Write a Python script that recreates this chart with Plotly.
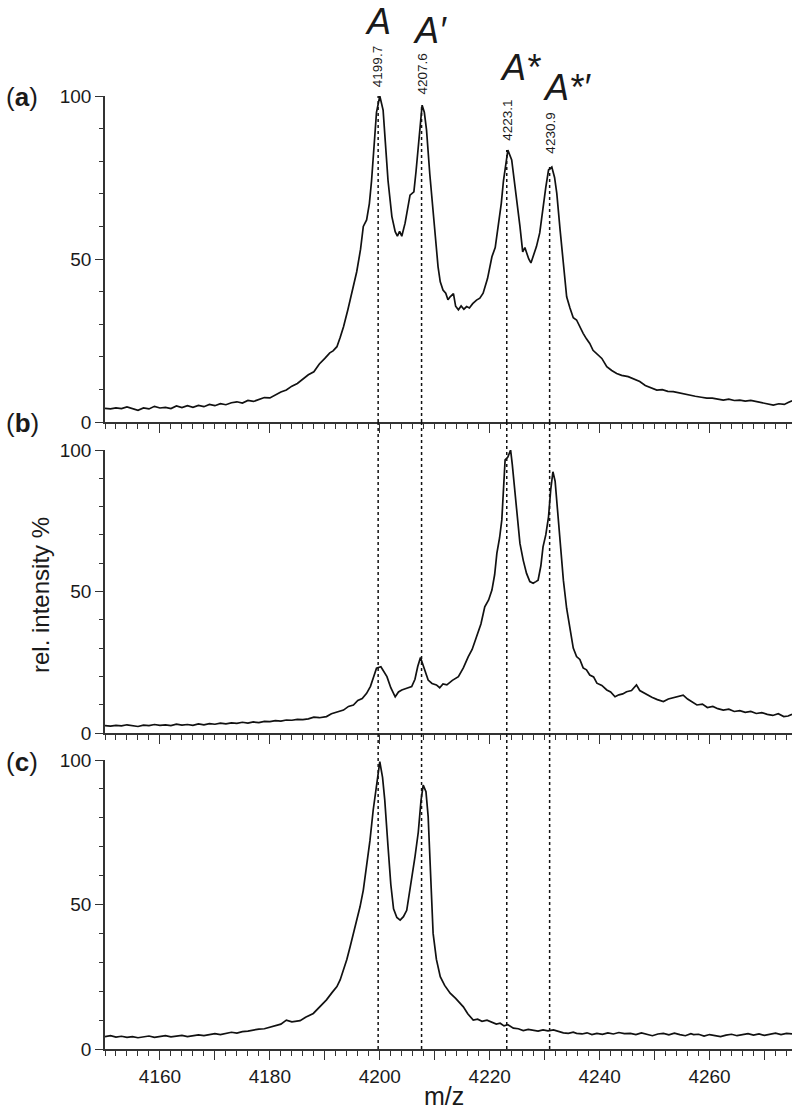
import plotly.graph_objects as go

# ---------------- data ----------------
# panel (a)
xa = [4150, 4151, 4152, 4153, 4154, 4155, 4156, 4157, 4158, 4159, 4160, 4161, 4162, 4163, 4164, 4165,
      4166, 4167, 4168, 4169, 4170, 4171, 4172, 4173, 4174, 4175, 4176, 4177, 4178, 4179, 4180, 4181,
      4182, 4183, 4184, 4185, 4186, 4187, 4188, 4189, 4190, 4190.9, 4191.5, 4192.2, 4192.8, 4193.4,
      4194.2, 4195.0, 4195.8, 4196.5, 4197.0, 4197.6, 4198.1, 4198.5, 4199.0, 4199.4, 4200.0, 4200.6,
      4201.0, 4201.5, 4202.2, 4202.8, 4203.2, 4203.6, 4204.0, 4204.6, 4205.5, 4206.2, 4206.6, 4207.0,
      4207.7, 4208.1, 4208.5, 4209.1, 4209.7, 4210.2, 4210.6, 4211.0, 4211.5, 4212.0, 4212.4, 4212.8,
      4213.4, 4213.8, 4214.3, 4214.8, 4215.3, 4215.8, 4216.3, 4216.9, 4217.6, 4218.2, 4218.8, 4219.6,
      4220.4, 4221.0, 4221.6, 4222.1, 4222.5, 4223.0, 4223.3, 4224.0, 4224.5, 4224.9, 4225.5, 4226.0,
      4226.4, 4226.7, 4227.1, 4227.5, 4228.0, 4228.5, 4229.1, 4229.7, 4230.2, 4230.7, 4231.3, 4231.8,
      4232.2, 4232.8, 4233.4, 4234.0, 4234.6, 4235.2, 4235.8, 4236.4, 4237.0, 4237.6, 4238.2, 4238.8,
      4239.5, 4240.4, 4241.3, 4242.2, 4243.1, 4244.0, 4245.2, 4246.2, 4247.3, 4248.3, 4249.3, 4250.4,
      4251.4, 4252.4, 4253.4, 4254.4, 4255.4, 4256.4, 4257.4, 4258.5, 4259.5, 4260.5, 4261.5, 4262.5,
      4263.5, 4264.5, 4265.5, 4266.5, 4267.5, 4268.6, 4269.6, 4270.6, 4271.6, 4272.6, 4273.6, 4274.3,
      4275]
ya = [4.2, 4.0, 4.3, 4.1, 4.6, 4.2, 3.6, 4.3, 4.0, 4.8, 4.3, 4.5, 4.1, 4.9, 4.4, 5.0,
      4.5, 5.1, 4.7, 5.4, 5.0, 5.6, 5.3, 5.9, 6.2, 5.8, 6.6, 6.3, 6.9, 7.5, 7.4, 8.3,
      9.2, 9.8, 11.0, 11.8, 13.2, 14.5, 15.4, 17.8, 19.5, 21.2, 21.8, 23.1, 26.0, 29.2,
      34.5, 40.0, 46.1, 53.0, 60.0, 62.0, 67.0, 74.0, 86.0, 95.0, 100.0, 95.7,
      86.0, 74.0, 63.0, 58.4, 57.0, 58.5, 57.0, 61.0, 69.6, 70.6, 77.0, 84.4,
      97.2, 95.0, 89.6, 76.0, 64.0, 54.0, 47.6, 43.0, 40.5, 39.5, 37.5, 38.4,
      39.4, 35.5, 34.4, 35.6, 34.6, 35.4, 35.0, 36.3, 37.4, 38.0, 39.5, 44.0,
      50.7, 53.5, 61.0, 67.0, 74.0, 81.0, 83.4, 80.4, 74.0, 69.0, 60.0, 52.2,
      53.5, 52.0, 50.0, 48.8, 51.5, 53.8, 58.0, 66.0, 72.0, 77.3, 78.2, 75.0,
      70.2, 59.0, 48.7, 38.4, 35.0, 32.0, 31.3, 29.0, 27.2, 25.5, 24.1, 22.0,
      21.0, 19.5, 17.0, 15.8, 14.9, 14.3, 13.9, 13.2, 12.4, 11.2, 10.6, 9.8,
      9.9, 9.4, 9.3, 8.9, 8.6, 8.3, 7.9, 7.6, 7.3, 7.3, 6.9, 6.7,
      7.0, 6.6, 6.7, 6.4, 6.6, 6.2, 5.9, 5.7, 5.2, 5.6, 5.4, 6.0,
      6.5]

# panel (b)
xb = [4150, 4151, 4152, 4153, 4154, 4155, 4156, 4157, 4158, 4159, 4160, 4161, 4162, 4163, 4164, 4165,
      4166, 4167, 4168, 4169, 4170, 4171, 4172, 4173, 4174, 4175, 4176, 4177, 4178, 4179, 4180, 4181,
      4182, 4183, 4184, 4185, 4186, 4187, 4188, 4189, 4190.3, 4191.2, 4192.3, 4193.4, 4194.3, 4195.2,
      4196.0, 4196.8, 4197.6, 4198.3, 4198.9, 4199.4, 4200.2, 4200.8, 4201.3, 4202.0, 4202.8, 4203.4,
      4204.0, 4204.9, 4205.8, 4206.4, 4206.9, 4207.4, 4208.0, 4208.8, 4209.5, 4210.3, 4210.9, 4211.5,
      4212.2, 4213.2, 4214.3, 4215.2, 4216.1, 4216.8, 4217.6, 4218.4, 4219.1, 4219.8, 4220.4, 4220.9,
      4221.3, 4221.8, 4222.2, 4222.5, 4222.8, 4223.3, 4223.8, 4224.1, 4224.5, 4225.0, 4225.5, 4226.1,
      4226.7, 4227.3, 4227.9, 4228.4, 4228.8, 4229.3, 4229.7, 4230.2, 4230.7, 4231.1, 4231.5, 4231.9,
      4232.2, 4232.8, 4233.4, 4234.0, 4234.6, 4235.2, 4235.8, 4236.4, 4237.0, 4237.6, 4238.2, 4238.9,
      4239.5, 4240.4, 4241.3, 4242.0, 4242.8, 4243.5, 4244.2, 4244.9, 4245.8, 4246.7, 4247.3, 4248.0,
      4248.6, 4249.5, 4250.5, 4251.6, 4252.5, 4253.5, 4254.4, 4255.2, 4256.0, 4256.8, 4257.7, 4258.7,
      4259.6, 4260.6, 4261.5, 4262.5, 4263.5, 4264.5, 4265.5, 4266.5, 4267.5, 4268.5, 4269.5, 4270.5,
      4271.5, 4272.5, 4273.5, 4274.3, 4275]
yb = [2.6, 2.4, 2.7, 2.5, 2.9, 2.6, 2.3, 2.8, 2.6, 3.0, 2.7, 2.9, 2.6, 3.1, 2.8, 3.0,
      2.7, 3.2, 2.9, 3.3, 3.1, 3.5, 3.2, 3.6, 3.4, 3.8, 3.5, 3.9, 3.7, 4.1, 4.0, 4.4,
      4.2, 4.6, 4.5, 4.8, 4.7, 5.0, 5.6, 5.4, 5.8, 6.8, 7.4, 8.1, 9.4, 9.9,
      11.5, 12.2, 14.0, 16.5, 20.0, 22.9, 23.4, 21.5, 19.9, 16.0, 12.8, 14.5,
      15.2, 15.8, 16.4, 19.0, 23.5, 26.7, 23.0, 18.7, 17.5, 17.0, 16.0, 17.3,
      17.0, 18.6, 19.9, 23.0, 27.0, 29.5, 34.0, 38.5, 44.6, 47.0, 50.5, 56.0,
      63.5, 69.0, 75.3, 86.0, 96.5, 97.5, 100.0, 95.0, 87.0, 77.0, 67.0, 61.0,
      56.4, 53.5, 52.9, 53.5, 54.0, 59.0, 65.8, 70.0, 76.4, 86.0, 92.3, 89.0,
      82.3, 68.0, 54.0, 44.0, 37.6, 30.0, 27.0, 26.0, 23.0, 22.3, 20.5, 19.8,
      17.6, 16.8, 15.2, 14.5, 12.8, 13.5, 13.8, 14.6, 15.0, 17.0, 15.0, 14.2,
      13.4, 12.6, 11.8, 11.1, 12.0, 12.6, 13.0, 13.4, 12.0, 11.0, 9.9, 10.2,
      9.0, 9.4, 8.6, 8.1, 8.4, 7.6, 7.9, 7.3, 7.6, 6.9, 7.2, 6.6,
      6.2, 6.8, 5.8, 6.0, 6.6]

# panel (c)
xc = [4150, 4151, 4152, 4153, 4154, 4155, 4156, 4157, 4158, 4159, 4160, 4161, 4162, 4163, 4164, 4165,
      4166, 4167, 4168, 4169, 4170, 4171, 4172, 4173, 4174, 4175, 4176, 4177, 4178, 4179, 4180, 4181,
      4182, 4183, 4184, 4185.5, 4186.5, 4187.9, 4189.0, 4190.3, 4191.3, 4192.2, 4192.8, 4193.4, 4194.0,
      4194.6, 4195.5, 4196.4, 4197.0, 4197.6, 4198.2, 4198.8, 4199.4, 4200.0, 4200.5, 4200.9, 4201.5,
      4202.0, 4202.5, 4203.1, 4203.7, 4204.3, 4204.9, 4205.6, 4206.4, 4207.0, 4207.5, 4207.9, 4208.4,
      4208.8, 4209.2, 4209.7, 4210.3, 4211.0, 4211.8, 4212.8, 4213.8, 4215.2, 4216.0, 4217.0, 4217.8,
      4218.6, 4219.5, 4220.4, 4221.2, 4221.9, 4222.6, 4223.3, 4224.3, 4225.2, 4226.1, 4227.0, 4227.9,
      4228.8, 4229.7, 4230.6, 4231.6, 4232.5, 4233.4, 4234.3, 4235.2, 4235.8, 4236.8, 4237.7, 4238.6,
      4239.5, 4240.5, 4241.5, 4242.5, 4243.5, 4244.5, 4245.6, 4246.6, 4247.6, 4248.6, 4249.6, 4250.6,
      4251.6, 4252.6, 4253.6, 4254.6, 4255.6, 4256.6, 4257.1, 4258.0, 4259.0, 4260.0, 4261.0, 4262.0,
      4263.0, 4264.0, 4265.0, 4266.0, 4267.0, 4268.0, 4269.0, 4270.0, 4271.0, 4272.0, 4273.0, 4274.0,
      4275]
yc = [4.3, 4.6, 4.1, 4.4, 4.0, 4.3, 3.9, 4.2, 4.5, 4.0, 4.3, 4.6, 4.2, 4.4, 4.7, 4.3,
      4.6, 4.9, 4.6, 5.0, 5.3, 5.0, 5.4, 5.8, 5.5, 6.0, 6.2, 6.6, 6.9, 7.0, 7.6, 8.0,
      8.6, 10.0, 9.4, 9.8, 11.0, 12.3, 14.6, 17.0, 19.5, 21.6, 24.0, 27.3, 31.0,
      35.4, 42.0, 49.2, 55.0, 63.0, 72.0, 82.7, 92.0, 99.4, 94.0, 86.2, 70.0,
      57.0, 48.5, 45.5, 44.6, 45.8, 48.0, 56.0, 66.5, 75.0, 86.0, 91.3, 89.0,
      80.4, 60.0, 40.0, 31.0, 25.0, 22.0, 19.3, 17.5, 14.6, 12.2, 10.0, 10.3,
      9.6, 10.0, 9.4, 8.6, 8.9, 8.0, 8.4, 7.2, 7.0, 6.4, 6.8, 6.6,
      6.2, 6.6, 6.3, 6.6, 6.0, 5.6, 5.4, 5.8, 5.4, 5.2, 5.6, 5.0,
      5.4, 5.1, 5.6, 5.2, 5.7, 5.3, 5.4, 5.0, 5.6, 5.1, 4.6, 5.2,
      5.4, 4.9, 5.5, 5.0, 4.6, 5.3, 5.0, 5.1, 4.5, 5.0, 4.7, 4.3,
      4.8, 5.1, 4.6, 5.0, 5.3, 4.8, 5.2, 4.7, 5.1, 5.5, 5.0, 5.4,
      5.2]

peak_mz = [4199.7, 4207.6, 4223.1, 4230.9]
peak_height_a = [100, 97.2, 83.4, 78.2]
peak_labels = ["4199.7", "4207.6", "4223.1", "4230.9"]
species = ["A", "A′", "A*", "A*′"]
x_ticks = list(range(4160, 4271, 10))
x_ticktext = [str(v) if v % 20 == 0 else "" for v in x_ticks]
y_ticks = [0, 50, 100]
panel_names = ["(<b>a</b>)", "(<b>b</b>)", "(<b>c</b>)"]

# ---------------- layout geometry ----------------
W, H = 800, 1112
def py(p):
    return 1 - p / H

x_dom = [105 / W, 792 / W]
doms = {
    "a": [py(422), py(96)],
    "b": [py(733), py(450)],
    "c": [py(1049), py(760)],
}

FONT = "Liberation Sans, Arial, Helvetica, sans-serif"
INK = "#1a1a1a"
AX = "#333333"

fig = go.Figure()
for i, (xs, ys) in enumerate([(xa, ya), (xb, yb), (xc, yc)]):
    sfx = "" if i == 0 else str(i + 1)
    fig.add_trace(go.Scatter(x=xs, y=ys, mode="lines",
                             line=dict(color="#111111", width=1.7),
                             xaxis="x" + sfx, yaxis="y" + sfx,
                             showlegend=False, hoverinfo="skip"))

def xaxis_cfg(anchor, labels):
    return dict(domain=x_dom, anchor=anchor, range=[4150, 4275],
                showline=True, linecolor=AX, linewidth=1.5, mirror=False,
                showgrid=False, zeroline=False,
                ticks="outside", ticklen=9, tickwidth=1.4, tickcolor=AX,
                tickmode="array", tickvals=x_ticks, ticktext=x_ticktext,
                showticklabels=labels,
                tickfont=dict(family=FONT, size=19, color=INK),
                minor=dict(tickmode="linear", tick0=4150, dtick=2, ticks="outside",
                           ticklen=5, tickwidth=1.2, tickcolor=AX, showgrid=False),
                automargin=False)

def yaxis_cfg(anchor, dom):
    return dict(domain=dom, anchor=anchor, range=[0, 100],
                showline=True, linecolor=AX, linewidth=1.5,
                showgrid=False, zeroline=False,
                ticks="outside", ticklen=8, tickwidth=1.4, tickcolor=AX,
                tickmode="array", tickvals=y_ticks,
                tickfont=dict(family=FONT, size=19, color=INK),
                minor=dict(tickmode="linear", tick0=0, dtick=10, ticks="outside",
                           ticklen=4, tickwidth=1.2, tickcolor=AX, showgrid=False),
                automargin=False)

fig.update_layout(
    width=W, height=H,
    margin=dict(l=0, r=0, t=0, b=0),
    paper_bgcolor="white", plot_bgcolor="white",
    font=dict(family=FONT, color=INK),
    xaxis=xaxis_cfg("y", False),
    yaxis=yaxis_cfg("x", doms["a"]),
    xaxis2=xaxis_cfg("y2", False),
    yaxis2=yaxis_cfg("x2", doms["b"]),
    xaxis3=xaxis_cfg("y3", True),
    yaxis3=yaxis_cfg("x3", doms["c"]),
)

# dotted guide lines
shapes = []
for mz, h in zip(peak_mz, peak_height_a):
    shapes.append(dict(type="line", xref="x", yref="y", x0=mz, x1=mz, y0=0, y1=h,
                       line=dict(color="#111111", width=1.5, dash="dot")))
    shapes.append(dict(type="line", xref="x", yref="paper", x0=mz, x1=mz,
                       y0=doms["c"][0], y1=doms["a"][0],
                       line=dict(color="#111111", width=1.5, dash="dot")))
fig.update_layout(shapes=shapes)

ann = []
# rotated m/z labels
label_y_px = [67, 74, 120, 133]
for mz, t, yp in zip(peak_mz, peak_labels, label_y_px):
    ann.append(dict(x=mz, y=py(yp), xref="x", yref="paper", text=t, textangle=-90,
                    showarrow=False, font=dict(family=FONT, size=13.5, color=INK),
                    xanchor="center", yanchor="middle"))
# species labels
sp_x_px = [378, 430, 520, 567]
sp_y_px = [22, 30, 68, 88]
for s, xp, yp in zip(species, sp_x_px, sp_y_px):
    ann.append(dict(x=xp / W, y=py(yp), xref="paper", yref="paper", text=s,
                    showarrow=False,
                    font=dict(family="Liberation Sans Narrow, " + FONT, size=36,
                              color=INK, style="italic"),
                    xanchor="center", yanchor="middle"))
# panel labels
for name, yp in zip(panel_names, [97, 423, 762]):
    ann.append(dict(x=22 / W, y=py(yp), xref="paper", yref="paper", text=name,
                    showarrow=False, font=dict(family=FONT, size=26, color=INK),
                    xanchor="center", yanchor="middle"))
# axis titles
ann.append(dict(x=40 / W, y=py(595), xref="paper", yref="paper", text="rel. intensity %",
                textangle=-90, showarrow=False, font=dict(family=FONT, size=24, color=INK),
                xanchor="center", yanchor="middle"))
ann.append(dict(x=444 / W, y=py(1096), xref="paper", yref="paper", text="m/z",
                showarrow=False, font=dict(family=FONT, size=25, color=INK),
                xanchor="center", yanchor="middle"))
fig.update_layout(annotations=ann)

fig.write_html("out.html", config={"displayModeBar": False},
               post_script="document.body.style.margin='0px';document.body.style.padding='0px';")
